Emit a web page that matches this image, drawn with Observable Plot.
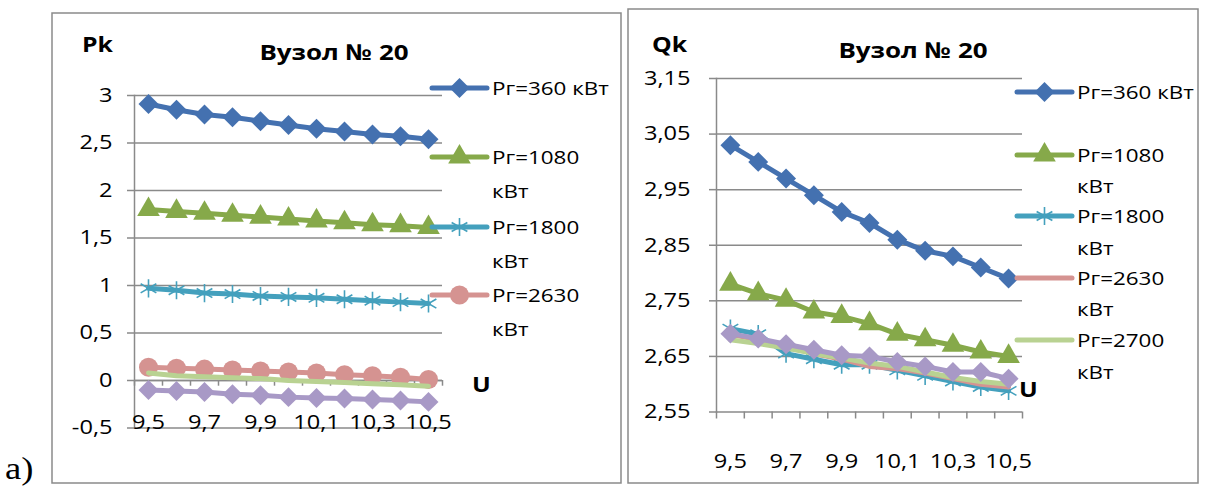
<!DOCTYPE html>
<html><head><meta charset="utf-8">
<script src="https://cdn.jsdelivr.net/npm/d3@7"></script>
<script src="https://cdn.jsdelivr.net/npm/@observablehq/plot@0.6"></script>
<style>
html,body{margin:0;padding:0;background:#fff;}
#root{position:relative;width:1207px;height:487px;overflow:hidden;font-family:"Open Sans",Lato,sans-serif;color:#000;}
#root svg{position:absolute;left:0;top:0;}
</style></head><body><div id="root"></div>
<script>
// ---- data ----
const U = [9.5, 9.6, 9.7, 9.8, 9.9, 10.0, 10.1, 10.2, 10.3, 10.4, 10.5];
const uLabels = [9.5, 9.7, 9.9, 10.1, 10.3, 10.5];
const seriesNames = ["Рг=360 кВт", "Рг=1080 кВт", "Рг=1800 кВт", "Рг=2630 кВт", "Рг=2700 кВт", ""];
const seriesColors = ["#4471b0", "#86a94a", "#44a0bd", "#d59391", "#b9d292", "#a899c6"];

const pk360  = [2.91, 2.85, 2.80, 2.77, 2.73, 2.69, 2.65, 2.62, 2.59, 2.57, 2.54];
const pk1080 = [1.80, 1.78, 1.76, 1.74, 1.72, 1.70, 1.68, 1.66, 1.64, 1.63, 1.61];
const pk1800 = [0.97, 0.95, 0.92, 0.91, 0.89, 0.88, 0.87, 0.855, 0.84, 0.825, 0.81];
const pk2630 = [0.14, 0.13, 0.12, 0.11, 0.10, 0.09, 0.08, 0.06, 0.05, 0.035, 0.01];
const pk2700 = [0.08, 0.05, 0.04, 0.03, 0.02, 0.0, -0.01, -0.02, -0.035, -0.045, -0.06];
const pkS6   = [-0.10, -0.11, -0.12, -0.145, -0.155, -0.175, -0.185, -0.19, -0.20, -0.21, -0.225];

const qk360  = [3.03, 3.00, 2.97, 2.94, 2.91, 2.89, 2.86, 2.84, 2.83, 2.81, 2.79];
const qk1080 = [2.78, 2.763, 2.751, 2.73, 2.722, 2.709, 2.69, 2.68, 2.67, 2.658, 2.65];
const qk1800 = [2.70, 2.69, 2.655, 2.645, 2.635, 2.635, 2.625, 2.615, 2.605, 2.595, 2.588];
const qk2630 = [2.69, 2.68, 2.67, 2.655, 2.645, 2.632, 2.628, 2.62, 2.61, 2.60, 2.595];
const qk2700 = [2.68, 2.673, 2.665, 2.655, 2.647, 2.638, 2.632, 2.622, 2.612, 2.605, 2.60];
const qkS6   = [2.691, 2.682, 2.672, 2.662, 2.652, 2.65, 2.64, 2.632, 2.622, 2.622, 2.61];

const pkTicks = [-0.5, 0, 0.5, 1, 1.5, 2, 2.5, 3];
const qkTicks = [2.55, 2.65, 2.75, 2.85, 2.95, 3.05, 3.15];

const pkMarkers = ["diamond2", "triangle", "asterisk", "circle", null, "diamond2"];
const qkMarkers = ["diamond2", "triangle", "asterisk", null, null, "diamond2"];

// ---- helpers ----
const GRID = "#8a8a8a";
const FONT = "'Open Sans', Lato, sans-serif";
const TICK_FS = 20;
const SX = 1.18; // horizontal stretch of the reference's lettering
const bounds = [U[0] - 0.05, ...U.map(u => +(u + 0.05).toFixed(2))];
const markerR = {diamond2: 9, triangle: 8.4, asterisk: 8.6, circle: 9.5};
const comma = (d, n) => (n == null ? String(d) : d.toFixed(n)).replace(".", ",");

function seriesMarks(arrays, markers) {
  const marks = [];
  arrays.forEach((arr, i) => {
    const data = U.map((u, j) => ({u, v: arr[j]}));
    const color = seriesColors[i];
    marks.push(Plot.line(data, {x: "u", y: "v", stroke: color, strokeWidth: 5, strokeLinejoin: "round", strokeLinecap: "round"}));
    const m = markers[i];
    if (m === "asterisk") {
      marks.push(Plot.dot(data, {x: "u", y: "v", symbol: m, r: markerR[m], stroke: color, strokeWidth: 1.6, fill: "none"}));
    } else if (m) {
      marks.push(Plot.dot(data, {x: "u", y: "v", symbol: m, r: markerR[m], fill: color, stroke: "none"}));
    }
  });
  return marks;
}

const root = document.getElementById("root");

// ---- left panel (Pk) ----
const left = Plot.plot({
  width: 1207, height: 487,
  marginLeft: 134, marginRight: 1207 - 442, marginTop: 95, marginBottom: 487 - 427.5,
  style: {background: "transparent", fontFamily: FONT, fontSize: TICK_FS + "px", color: "#000", overflow: "visible"},
  x: {domain: [9.45, 10.55], label: null},
  y: {domain: [-0.5, 3], label: null},
  marks: [
    Plot.gridY(pkTicks, {stroke: GRID, strokeOpacity: 1, strokeWidth: 1.5}),
    Plot.axisY(pkTicks, {label: null, tickSize: 7, tickPadding: 15, tickFormat: d => comma(d), stroke: GRID, strokeWidth: 1.5, fill: "#000", fontSize: TICK_FS}),
    Plot.frame({anchor: "left", stroke: GRID, strokeWidth: 1.5}),
    Plot.ruleY([0], {stroke: GRID, strokeWidth: 1.5}),
    Plot.ruleX(bounds, {y1: 0, y2: -0.06, stroke: GRID, strokeWidth: 1.5}),
    Plot.axisX(uLabels, {label: null, tickSize: 0, tickPadding: -13, tickFormat: d => comma(d, 1), fill: "#000", fontSize: TICK_FS}),
    ...seriesMarks([pk360, pk1080, pk1800, pk2630, pk2700, pkS6], pkMarkers)
  ]
});
root.appendChild(left);

// ---- right panel (Qk) ----
const right = Plot.plot({
  width: 1207, height: 487,
  marginLeft: 716, marginRight: 1207 - 1022, marginTop: 78, marginBottom: 487 - 411.5,
  style: {background: "transparent", fontFamily: FONT, fontSize: TICK_FS + "px", color: "#000", overflow: "visible"},
  x: {domain: [9.45, 10.55], label: null},
  y: {domain: [2.55, 3.15], label: null},
  marks: [
    Plot.gridY(qkTicks, {stroke: GRID, strokeOpacity: 1, strokeWidth: 1.5}),
    Plot.axisY(qkTicks, {label: null, tickSize: 7, tickPadding: 19, tickFormat: d => comma(d, 2), stroke: GRID, strokeWidth: 1.5, fill: "#000", fontSize: TICK_FS}),
    Plot.frame({anchor: "left", stroke: GRID, strokeWidth: 1.5}),
    Plot.axisX(bounds, {label: null, tickSize: 7, tickFormat: () => "", stroke: GRID, strokeWidth: 1.5}),
    Plot.axisX(uLabels, {label: null, tickSize: 0, tickPadding: 42, tickFormat: d => comma(d, 1), fill: "#000", fontSize: TICK_FS}),
    ...seriesMarks([qk360, qk1080, qk1800, qk2630, qk2700, qkS6], qkMarkers)
  ]
});
root.appendChild(right);

// ---- overlay: frames, titles, legends ----
const ov = d3.select(root).append("svg").attr("width", 1207).attr("height", 487)
  .style("pointer-events", "none").attr("font-family", FONT);

ov.append("rect").attr("x", 52).attr("y", 13).attr("width", 569).attr("height", 470)
  .attr("fill", "none").attr("stroke", GRID).attr("stroke-width", 1.5);
ov.append("rect").attr("x", 628).attr("y", 9).attr("width", 570).attr("height", 474)
  .attr("fill", "none").attr("stroke", GRID).attr("stroke-width", 1.5);

ov.append("text").attr("transform", "translate(5,479)").attr("font-family", "'Liberation Serif', serif")
  .attr("font-size", 31).text("a)");

function txt(x, y, s, opts = {}) {
  ov.append("text").attr("transform", `translate(${x},${y})`).attr("font-size", opts.size || 19)
    .attr("font-weight", opts.bold ? "bold" : null).attr("text-anchor", opts.anchor || "start").text(s);
}
// left labels
txt(82, 52, "Pk", {bold: true, size: 21});
txt(334, 60, "Вузол № 20", {bold: true, size: 22, anchor: "middle"});
txt(472, 392, "U", {bold: true, size: 21});
// right labels
txt(652, 52, "Qk", {bold: true, size: 21});
txt(913, 58, "Вузол № 20", {bold: true, size: 22, anchor: "middle"});
txt(1019, 397, "U", {bold: true, size: 21});

function legend(items, x0, x1, tx) {
  items.forEach(({i, y, marker, wrap}) => {
    const color = seriesColors[i];
    ov.append("line").attr("x1", x0).attr("x2", x1).attr("y1", y).attr("y2", y)
      .attr("stroke", color).attr("stroke-width", 5).attr("stroke-linecap", "round");
    if (marker) {
      const types = {diamond2: d3.symbolDiamond2, triangle: d3.symbolTriangle, asterisk: d3.symbolAsterisk, circle: d3.symbolCircle};
      const r = markerR[marker];
      const p = ov.append("path").attr("d", d3.symbol(types[marker], Math.PI * r * r)())
        .attr("transform", `translate(${(x0 + x1) / 2},${y})`);
      if (marker === "asterisk") p.attr("stroke", color).attr("stroke-width", 1.6).attr("fill", "none");
      else p.attr("fill", color);
    }
    const name = seriesNames[i];
    if (wrap) {
      const [a, b] = name.split(" ");
      txt(tx, y + 7, a);
      txt(tx, y + 7 + wrap, b);
    } else {
      txt(tx, y + 7, name);
    }
  });
}
legend([
  {i: 0, y: 88, marker: "diamond2"},
  {i: 1, y: 157, marker: "triangle", wrap: 34},
  {i: 2, y: 227, marker: "asterisk", wrap: 34},
  {i: 3, y: 295, marker: "circle", wrap: 34}
], 432, 487, 492);
legend([
  {i: 0, y: 92, marker: "diamond2"},
  {i: 1, y: 155, marker: "triangle", wrap: 31},
  {i: 2, y: 216, marker: "asterisk", wrap: 32},
  {i: 3, y: 278, marker: null, wrap: 31},
  {i: 4, y: 340, marker: null, wrap: 32}
], 1017, 1072, 1077);

// stretch every label horizontally about its own anchor, like the reference lettering
d3.select(root).selectAll("text").each(function () {
  const t = this.getAttribute("transform");
  if (t) this.setAttribute("transform", `${t} scale(${SX},1)`);
});
</script></body></html>
